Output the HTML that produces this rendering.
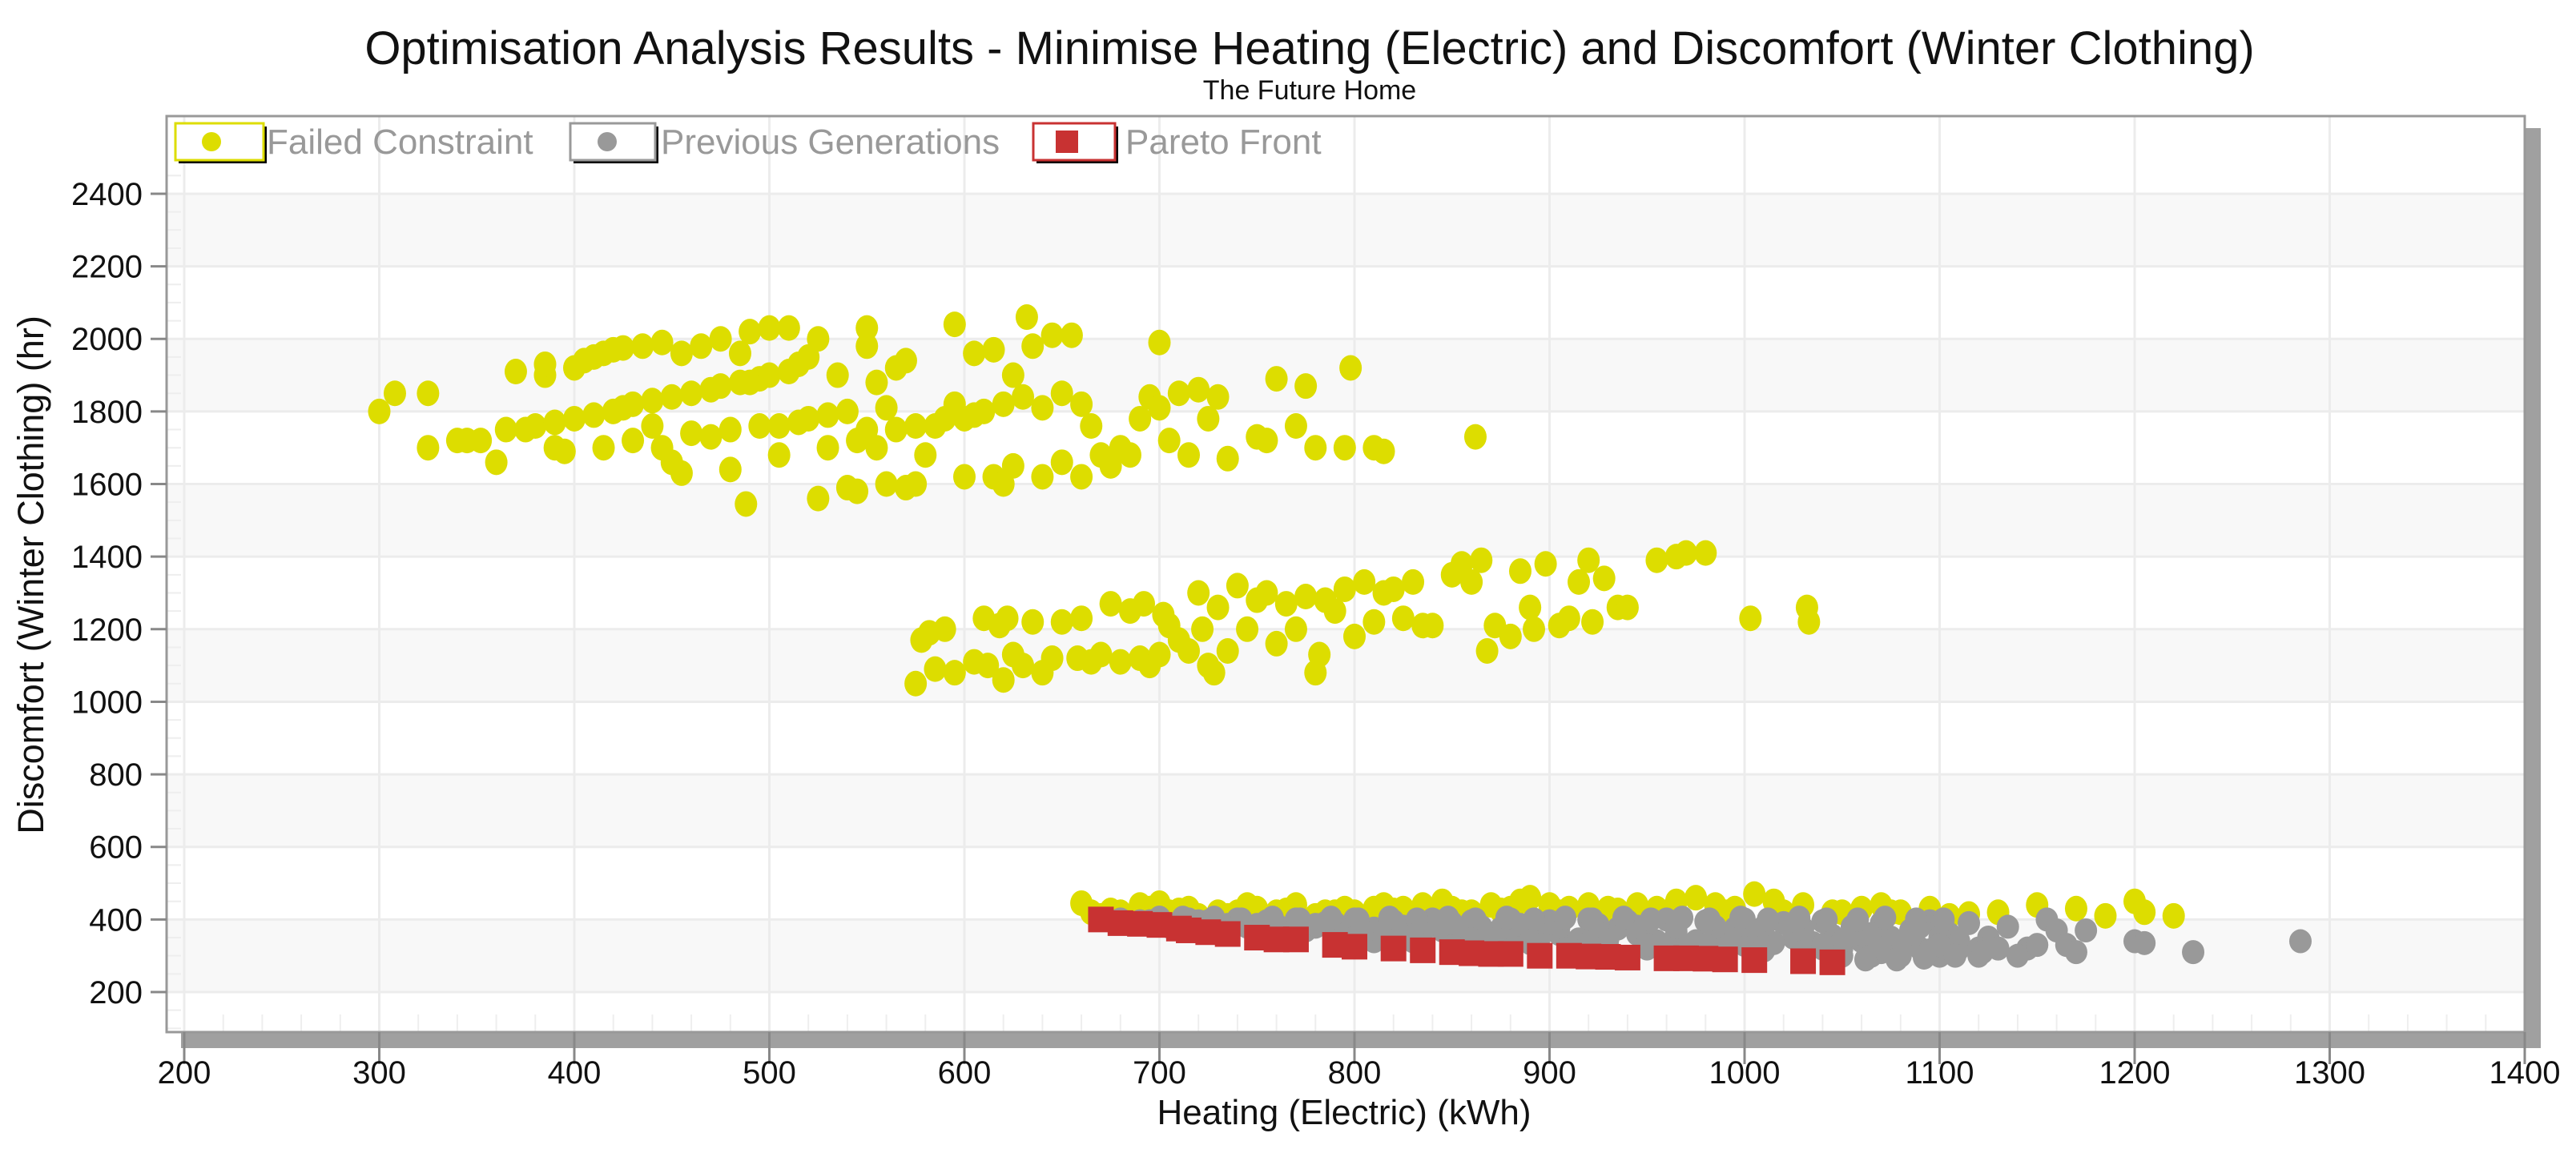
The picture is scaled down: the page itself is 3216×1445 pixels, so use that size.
<!DOCTYPE html>
<html><head><meta charset="utf-8"><style>
html,body{margin:0;padding:0;background:#fff;}
svg{display:block;font-family:"Liberation Sans",Arial,sans-serif;}
</style></head><body>
<svg id="chart" width="3216" height="1445" viewBox="0 0 3216 1445" xmlns="http://www.w3.org/2000/svg">
<rect x="0" y="0" width="3216" height="1445" fill="#fff"/>
<text x="1635" y="80" font-size="58" text-anchor="middle" fill="#111">Optimisation Analysis Results - Minimise Heating (Electric) and Discomfort (Winter Clothing)</text>
<text x="1635" y="124" font-size="34" text-anchor="middle" fill="#111">The Future Home</text>
<g id="bands"></g>
<g id="grid"></g>
<rect x="226" y="1289" width="2946" height="20" fill="#a0a0a0"/>
<rect x="3152" y="160" width="20" height="1149" fill="#a0a0a0"/>
<rect x="208" y="145" width="2944" height="1144" fill="none" stroke="#999" stroke-width="3"/>
<g id="ticks"></g>
<g id="marks"></g>
<g id="legend">
  <rect x="223" y="158" width="110" height="46" fill="#000"/>
  <rect x="219" y="154" width="110" height="46" fill="#fff" stroke="#dddd00" stroke-width="3"/>
  <circle cx="264" cy="177" r="12" fill="#dddd00"/>
  <text x="333" y="192" font-size="44" fill="#999">Failed Constraint</text>
  <rect x="716" y="158" width="106" height="46" fill="#000"/>
  <rect x="712" y="154" width="106" height="46" fill="#fff" stroke="#999" stroke-width="3"/>
  <circle cx="758" cy="177" r="12" fill="#999"/>
  <text x="825" y="192" font-size="44" fill="#999">Previous Generations</text>
  <rect x="1294" y="158" width="102" height="46" fill="#000"/>
  <rect x="1290" y="154" width="102" height="46" fill="#fff" stroke="#c83232" stroke-width="3"/>
  <rect x="1318" y="163" width="28" height="28" fill="#c83232"/>
  <text x="1405" y="192" font-size="44" fill="#999">Pareto Front</text>
</g>
<text x="1678" y="1404" font-size="44" text-anchor="middle" fill="#111">Heating (Electric) (kWh)</text>
<text transform="translate(54,718) rotate(-90)" font-size="45" text-anchor="middle" fill="#111">Discomfort (Winter Clothing) (hr)</text>
</svg>
<script>
const xTicks=[200,300,400,500,600,700,800,900,1000,1100,1200,1300,1400];
const yTicks=[200,400,600,800,1000,1200,1400,1600,1800,2000,2200,2400];
const failedX=[300,308,325,325,340,345,352,360,365,370,375,380,385,385,390,390,395,400,400,405,410,410,415,415,420,420,425,425,430,430,435,440,440,445,445,450,450,455,455,460,460,465,470,470,475,475,480,480,485,485,488,490,490,495,495,500,500,505,505,510,510,515,515,520,520,525,525,530,530,535,540,540,545,545,550,550,550,555,555,560,560,565,565,570,570,575,575,580,585,590,595,595,600,600,605,605,610,615,615,620,620,625,625,630,632,635,640,640,645,650,650,655,660,660,665,670,675,680,685,690,695,700,700,705,710,715,720,725,730,735,750,755,760,770,775,780,795,798,810,815,862,
575,578,582,585,590,595,605,610,612,618,620,622,625,630,635,640,645,650,658,660,665,670,675,680,685,690,692,695,700,702,705,710,715,720,722,725,728,730,735,740,745,750,755,760,765,770,775,780,782,785,790,795,800,805,810,815,820,825,830,835,840,850,855,860,865,868,872,880,885,890,892,898,905,910,915,920,922,928,935,940,955,965,970,980,1003,1032,1033,
660,665,670,680,690,695,700,705,715,720,730,735,745,750,760,770,780,785,795,800,810,815,825,835,845,850,860,870,880,885,890,900,910,920,930,945,955,965,975,985,995,1005,1015,1030,1045,1060,1070,1080,1095,1105,1130,1150,1170,1185,1200,1205,1220,
675,710,740,765,790,820,855,875,905,935,960,990,1020,1050,1075,1115];
const failedY=[1800,1850,1850,1700,1720,1720,1720,1660,1750,1910,1750,1760,1900,1930,1770,1700,1690,1780,1920,1940,1950,1790,1960,1700,1800,1970,1810,1975,1820,1720,1980,1830,1760,1990,1700,1840,1660,1630,1960,1850,1740,1980,1860,1730,2000,1870,1750,1640,1880,1960,1545,1880,2020,1890,1760,2030,1900,1760,1680,1910,2030,1930,1770,1780,1950,1560,2000,1790,1700,1900,1590,1800,1580,1720,2030,1980,1750,1880,1700,1810,1600,1750,1920,1940,1590,1760,1600,1680,1760,1780,2040,1820,1620,1780,1960,1790,1800,1620,1970,1820,1600,1650,1900,1840,2060,1980,1810,1620,2010,1660,1850,2010,1820,1620,1760,1680,1650,1700,1680,1780,1840,1810,1990,1720,1850,1680,1860,1780,1840,1670,1730,1720,1890,1760,1870,1700,1700,1920,1700,1690,1730,
1050,1170,1190,1090,1200,1080,1110,1230,1100,1210,1060,1230,1130,1100,1220,1080,1120,1220,1120,1230,1110,1130,1270,1110,1250,1120,1270,1100,1130,1240,1210,1170,1140,1300,1200,1100,1080,1260,1140,1320,1200,1280,1300,1160,1270,1200,1290,1080,1130,1280,1250,1310,1180,1330,1220,1300,1310,1230,1330,1210,1210,1350,1380,1330,1390,1140,1210,1180,1360,1260,1200,1380,1210,1230,1330,1390,1220,1340,1260,1260,1390,1400,1410,1410,1230,1260,1220,
445,420,410,420,440,430,445,420,430,410,420,410,440,430,420,440,410,420,430,420,430,440,430,440,450,430,420,440,430,450,460,440,430,440,430,440,430,450,460,440,430,470,450,440,420,430,440,420,430,410,420,440,430,410,450,420,410,
425,425,420,425,420,425,420,425,420,425,420,420,420,420,420,415];
const prevX=[680,690,700,705,715,725,730,740,745,755,760,770,775,785,790,800,805,810,820,825,830,840,845,850,860,865,870,880,885,890,900,905,910,920,925,930,940,945,950,960,965,970,980,985,990,1000,1005,1010,1020,1025,1030,1040,1045,1050,1055,1060,1065,1070,1075,1080,1085,1090,1095,1100,1105,1110,1115,1120,1125,1130,1135,1145,1150,1155,1160,1165,1170,1175,1200,1205,1230,1285,960,1000,1040,880,820,760,720,
695,720,735,750,765,780,795,810,815,835,855,870,875,895,915,930,935,955,975,990,995,1015,1035,1050,1060,1070,1085,1095,1110,1125,1140,1050,1065,1080,1100,1120,
780,800,825,845,865,885,905,925,945,965,985,1010,1030,1055,1075,1090,740,760,790,850,900,950,1000,
700,712,728,742,758,772,788,802,818,832,848,862,878,892,908,922,938,952,968,982,998,1012,1028,1042,1058,1072,1088,1102,
800,830,860,890,920,950,980,1010,1040,1070,1100,1130,1062,1078,1092,1108,1122];
const prevY=[400,395,405,380,400,395,370,400,380,395,360,400,370,390,350,400,370,340,395,360,340,400,370,340,395,365,330,400,370,335,395,360,330,400,365,325,395,360,320,400,365,320,395,355,315,400,360,315,390,350,310,395,355,300,380,340,300,390,330,300,370,320,395,300,360,320,390,300,340,320,380,320,330,400,370,330,310,370,340,335,310,340,330,330,320,345,360,380,385,
395,395,385,385,375,380,370,375,355,365,355,350,375,350,345,345,375,340,340,335,375,335,335,320,360,310,350,315,340,350,300,340,360,320,350,320,
385,385,380,385,380,385,380,385,380,380,380,380,375,360,350,380,385,385,390,390,390,385,385,
405,405,405,400,405,400,405,400,405,400,405,400,405,400,405,400,405,400,405,400,405,400,405,400,400,405,400,400,
350,355,345,340,335,330,330,325,330,320,330,320,290,290,295,300,310];
const paretoX=[670,680,700,710,715,735,750,770,790,800,820,835,850,870,880,895,910,920,940,960,970,990,1005,1030,1045,690,725,760,860,930,980];
const paretoY=[400,390,385,375,370,360,350,345,330,325,320,315,310,305,305,300,300,298,295,293,293,290,288,285,282,388,365,345,307,297,292];

const NS='http://www.w3.org/2000/svg';
const X0=208,X1=3152,Y0=145,Y1=1289;
function xs(v){return 230+(v-200)*2.435;}
function ys(v){return 1239-(v-200)*0.4532;}
function mk(tag,attrs,parent){const e=document.createElementNS(NS,tag);for(const k in attrs)e.setAttribute(k,attrs[k]);parent.appendChild(e);return e;}
const bands=document.getElementById('bands'),grid=document.getElementById('grid'),ticks=document.getElementById('ticks'),marks=document.getElementById('marks');
mk('rect',{x:X0,y:Y0,width:X1-X0,height:Y1-Y0,fill:'#fff'},bands);
for(let i=0;i<yTicks.length-1;i+=2){
  const r=mk('rect',{x:X0,y:ys(yTicks[i+1]),width:X1-X0,height:ys(yTicks[i])-ys(yTicks[i+1]),fill:'#f8f8f8'},bands);
  
  
}
for(const v of xTicks){
  const x=xs(v);
  if(x<X1-2){const g=mk('line',{x1:x,x2:x,y1:Y0,y2:Y1,stroke:'#ececec','stroke-width':3},grid);
  
  }
  mk('line',{x1:x,x2:x,y1:Y1,y2:Y1+40,stroke:'#888','stroke-width':3},ticks);
  const t=mk('text',{x:x,y:1353,'font-size':40,'text-anchor':'middle',fill:'#111'},ticks);
  t.textContent=v;
  
  
}
for(let v=200;v<1400;v+=20){const x=xs(v);if(v%100)mk('line',{x1:x,x2:x,y1:Y1-22,y2:Y1,stroke:'#eee','stroke-width':2},grid);}
for(let v=100;v<2500;v+=50){const y=ys(v);if(y>Y0&&y<Y1&&v%200)mk('line',{x1:X0,x2:X0+18,y1:y,y2:y,stroke:'#eee','stroke-width':2},grid);}
for(const v of yTicks){
  const y=ys(v);
  const g=mk('line',{x1:X0,x2:X1,y1:y,y2:y,stroke:'#ececec','stroke-width':3},grid);
  
  
  mk('line',{x1:188,x2:X0,y1:y,y2:y,stroke:'#888','stroke-width':3},ticks);
  const t=mk('text',{x:178,y:y+14,'font-size':40,'text-anchor':'end',fill:'#111'},ticks);
  t.textContent=v;
  
  
}
for(let i=0;i<failedX.length;i++){
  const c=mk('ellipse',{cx:xs(failedX[i]),cy:ys(failedY[i]),rx:14,ry:16,fill:'#dddd00'},marks);
  
  
}
for(let i=0;i<prevX.length;i++){
  const c=mk('ellipse',{cx:xs(prevX[i]),cy:ys(prevY[i]),rx:14,ry:15,fill:'#999'},marks);
  
  
}
for(let i=0;i<paretoX.length;i++){
  const r=mk('rect',{x:xs(paretoX[i])-16,y:ys(paretoY[i])-16,width:32,height:32,fill:'#c83232'},marks);
  
  
}
</script>
</body></html>
